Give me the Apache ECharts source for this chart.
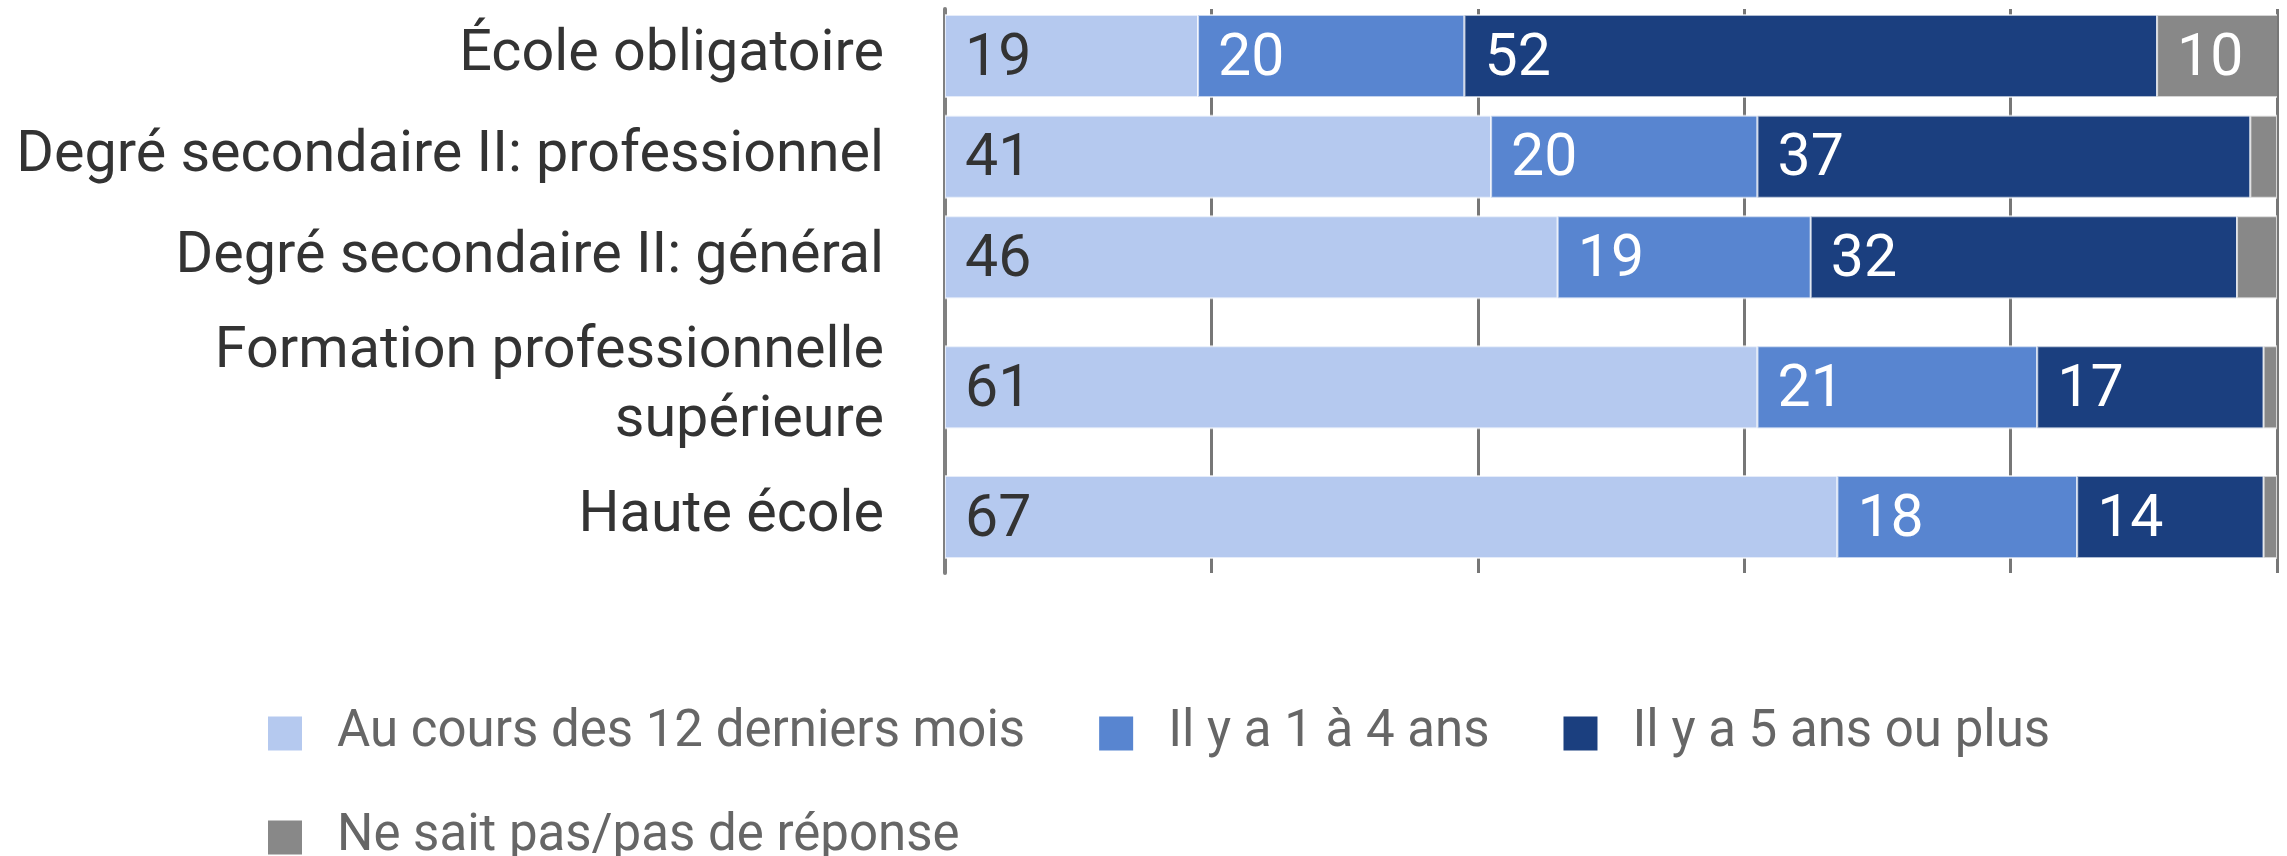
<!DOCTYPE html>
<html>
<head>
<meta charset="utf-8">
<script src="https://cdn.jsdelivr.net/npm/echarts@6/dist/echarts.min.js"></script>
<style>
html,body{margin:0;padding:0;background:#fff;}
#chart{width:2287px;height:856px;}
</style>
</head>
<body>
<div id="chart"></div>
<script>
// ---- Data ----
const categories = [
  'École obligatoire',
  'Degré secondaire II: professionnel',
  'Degré secondaire II: général',
  'Formation professionnelle\nsupérieure',
  'Haute école'
];
const seriesNames = [
  'Au cours des 12 derniers mois',
  'Il y a 1 à 4 ans',
  'Il y a 5 ans ou plus',
  'Ne sait pas/pas de réponse'
];
const last12Months = [19, 41, 46, 61, 67];
const oneToFourYears = [20, 20, 19, 21, 18];
const fiveYearsOrMore = [52, 37, 32, 17, 14];
const dontKnow = [10, 2, 3, 1, 1];
const xTicks = [0, 20, 40, 60, 80, 100];

// ---- Styles ----
const colors = ['#b5c9ef', '#5885d0', '#1b3f7f', '#888888'];
const labelColors = ['#333333', '#ffffff', '#ffffff', '#ffffff'];
const FONT = 'Roboto, "Noto Sans", sans-serif';
const BAR_H = 82;
const MIN_LABEL = 5;

// row layout: rows with two-line labels get a taller slot
const EXTRA_LINE = 0.58;
const rowPos = [];
let acc = 0;
categories.forEach(c => {
  const lines = c.split('\n').length;
  const slot = 1 + EXTRA_LINE * (lines - 1);
  rowPos.push(acc + slot / 2);
  acc += slot;
});
const yMin = 0.033;
const yMax = acc + 0.056;

const allValues = [last12Months, oneToFourYears, fiveYearsOrMore, dontKnow];
const starts = categories.map(() => 0);
const seriesData = allValues.map(vals => vals.map((v, i) => {
  const s = starts[i];
  starts[i] += v;
  return [s, s + v, rowPos[i], v];
}));

function renderItem(params, api) {
  const s = api.value(0), e = api.value(1), p = api.value(2), v = api.value(3);
  const a = api.coord([s, p]);
  const b = api.coord([e, p]);
  const el = {
    type: 'rect',
    shape: { x: a[0], y: a[1] - BAR_H / 2, width: b[0] - a[0], height: BAR_H },
    style: { fill: api.visual('color'), stroke: 'rgba(255,255,255,0.65)', lineWidth: 2 }
  };
  if (v >= MIN_LABEL) {
    el.textContent = {
      style: { text: String(v), fill: labelColors[params.seriesIndex], fontSize: 59, fontFamily: FONT }
    };
    el.textConfig = { position: 'insideLeft', distance: 21, offset: [0, 4] };
  }
  return el;
}

const chart = echarts.init(document.getElementById('chart'), null, { renderer: 'canvas' });

const legendCommon = {
  orient: 'horizontal',
  left: 268,
  padding: 0,
  icon: 'rect',
  itemWidth: 34,
  itemHeight: 34,
  itemGap: 74,
  selectedMode: false,
  textStyle: { fontSize: 51, color: '#666666', fontFamily: FONT, padding: [0, 0, 0, 30] }
};

chart.setOption({
  animation: false,
  backgroundColor: '#ffffff',
  grid: { left: 945, right: 10, top: 9, bottom: 283 },
  legend: [
    Object.assign({}, legendCommon, { data: seriesNames.slice(0, 3), top: 708 }),
    Object.assign({}, legendCommon, { data: seriesNames.slice(3), top: 812 })
  ],
  xAxis: {
    type: 'value',
    min: xTicks[0],
    max: xTicks[xTicks.length - 1],
    interval: xTicks[1] - xTicks[0],
    axisLine: { show: false },
    axisTick: { show: false },
    axisLabel: { show: false },
    splitLine: { show: true, lineStyle: { color: '#777777', width: 3 } }
  },
  yAxis: {
    type: 'value',
    inverse: true,
    min: yMin,
    max: yMax,
    splitLine: { show: false },
    axisTick: { show: false },
    axisLine: { show: true, onZero: false, lineStyle: { color: '#808080', width: 4 } },
    axisLabel: {
      show: true,
      customValues: rowPos,
      margin: 61,
      fontSize: 57.5,
      lineHeight: 69,
      padding: [8, 0, 0, 0],
      color: '#333333',
      fontFamily: FONT,
      align: 'right',
      formatter: function (val) {
        let best = 0, bd = Infinity;
        rowPos.forEach((p, i) => { const d = Math.abs(p - val); if (d < bd) { bd = d; best = i; } });
        return categories[best];
      }
    }
  },
  series: seriesNames.map((name, k) => ({
    name: name,
    type: 'custom',
    clip: true,
    itemStyle: { color: colors[k] },
    encode: { x: [0, 1], y: 2 },
    renderItem: renderItem,
    data: seriesData[k]
  }))
});
</script>
</body>
</html>
